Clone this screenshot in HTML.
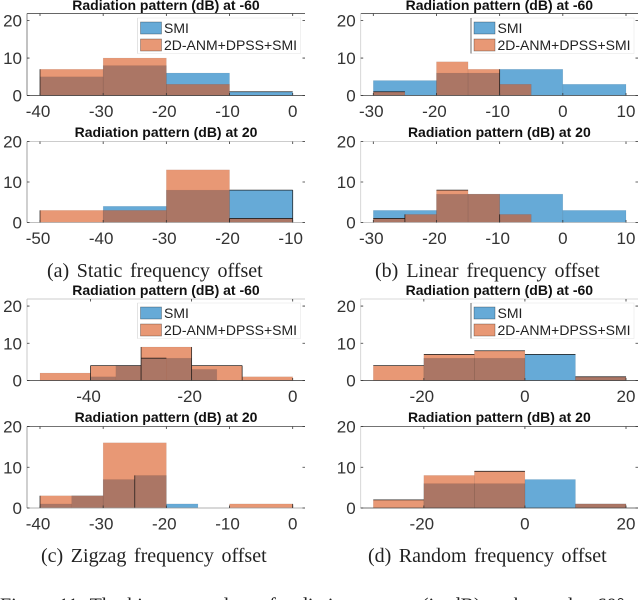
<!DOCTYPE html>
<html>
<head>
<meta charset="utf-8">
<title>Radiation pattern histograms</title>
<style>
html,body{margin:0;padding:0;background:#fff;width:640px;height:600px;overflow:hidden}
svg{display:block}
.tick{font-family:"Liberation Sans",sans-serif;font-size:17px;fill:#333}
.ttl{font-family:"Liberation Sans",sans-serif;font-size:14px;font-weight:bold;fill:#111}
.leg{font-family:"Liberation Sans",sans-serif;font-size:14px;fill:#222}
.cap{font-family:"Liberation Serif",serif;font-size:20px;fill:#222}
</style>
</head>
<body>
<svg id="figure" width="640" height="600" viewBox="0 0 640 600" xmlns="http://www.w3.org/2000/svg">
  <text class="cap" x="47" y="277" word-spacing="2.6">(a) Static frequency offset</text>
  <text class="cap" x="375" y="277" word-spacing="3">(b) Linear frequency offset</text>
  <text class="cap" x="41" y="562" word-spacing="2.6">(c) Zigzag frequency offset</text>
  <text class="cap" x="368" y="562" word-spacing="2.5">(d) Random frequency offset</text>
  <text class="cap" x="0" y="611.5" word-spacing="1.5">Figure 11: The histogram plots of radiation pattern (in dB) at the angles 60°</text>
</svg>
<script>
// ---- data ----
var aTopEdgesSmi = [-40,-30,-20,-10,0];
var aTopSmi = [5,8,6,1];
var aTopEdgesAnm = [-40,-30,-20,-10];
var aTopAnm = [7,10,3];
var aTopTicks = [-40,-30,-20,-10,0];

var aBotEdgesSmi = [-40,-30,-20,-10];
var aBotSmi = [4,8,8];
var aBotEdgesAnm = [-50,-40,-30,-20,-10];
var aBotAnm = [3,3,13,1];
var aBotTicks = [-50,-40,-30,-20,-10];

var bTopEdgesSmi = [-30,-20,-10,0,10];
var bTopSmi = [4,6,7,3];
var bTopEdgesAnm = [-30,-25,-20,-15,-10,-5];
var bTopAnm = [1,0,9,7,3];
var bTopTicks = [-30,-20,-10,0,10];

var bBotEdgesSmi = [-30,-20,-10,0,10];
var bBotSmi = [3,7,7,3];
var bBotEdgesAnm = [-30,-25,-20,-15,-10,-5];
var bBotAnm = [1,2,8,7,2];
var bBotTicks = [-30,-20,-10,0,10];

var cTopEdgesSmi = [-40,-35,-30,-25,-20,-15];
var cTopSmi = [1,4,6,6,3];
var cTopEdgesAnm = [-50,-40,-30,-20,-10,0];
var cTopAnm = [2,4,9,4,1];
var cTopTicks = [-40,-20,0];

var cBotEdgesSmi = [-40,-35,-30,-25,-20,-15];
var cBotSmi = [1,3,7,8,1];
var cBotEdgesAnm = [-40,-30,-20,-10,0];
var cBotAnm = [3,16,0,1];
var cBotTicks = [-40,-30,-20,-10,0];

var dTopEdgesSmi = [-20,-10,0,10,20];
var dTopSmi = [6,6,7,1];
var dTopEdgesAnm = [-30,-20,-10,0,10,20];
var dTopAnm = [4,7,8,0,1];
var dTopTicks = [-20,0,20];

var dBotEdgesSmi = [-20,-10,0,10,20];
var dBotSmi = [6,6,7,1];
var dBotEdgesAnm = [-30,-20,-10,0,10,20];
var dBotAnm = [2,8,9,0,1];
var dBotTicks = [-20,0,20];

var yTicks = [0,10,20];
var seriesNames = ["SMI","2D-ANM+DPSS+SMI"];

// ---- drawing ----
var svg = document.getElementById('figure');
var NS = 'http://www.w3.org/2000/svg';

function add(parent, tag, attrs, text) {
  var el = document.createElementNS(NS, tag);
  for (var k in attrs) el.setAttribute(k, attrs[k]);
  if (text !== undefined) el.textContent = text;
  parent.appendChild(el);
  return el;
}

function drawBars(g, edges, values, sx, sy, fill, id) {
  for (var i = 0; i < values.length; i++) {
    if (!values[i]) continue;
    var x0 = sx(edges[i]), x1 = sx(edges[i + 1]), y = sy(values[i]);
    var r = add(g, 'rect', {x:x0, y:y, width:x1 - x0, height:sy(0) - y, fill:fill, 'fill-opacity':0.6, stroke:'#000', 'stroke-opacity':0.1, 'stroke-width':0.5});
    
    
  }
}

// Darker outline fragments where the reference's bar edges survive downsampling.
// Each spec is "series:index:sides"; t = top, l = left, r = right.
function drawEdges(g, cfg, sx, sy) {
  (cfg.dark || []).forEach(function (spec) {
    var p = spec.split(':');
    var isSmi = p[0] === 's';
    var edges = isSmi ? cfg.edgesSmi : cfg.edgesAnm;
    var vals = isSmi ? cfg.smi : cfg.anm;
    var i = +p[1];
    var x0 = sx(edges[i]), x1 = sx(edges[i + 1]), y = sy(vals[i]), b = sy(0);
    var d = '';
    if (p[2].indexOf('t') >= 0) d += 'M' + x0 + ' ' + y + 'H' + x1;
    if (p[2].indexOf('l') >= 0) d += 'M' + x0 + ' ' + y + 'V' + b;
    if (p[2].indexOf('r') >= 0) d += 'M' + x1 + ' ' + y + 'V' + b;
    var e = add(g, 'path', {d:d, fill:'none', stroke:'#111', 'stroke-opacity':0.85, 'stroke-width':0.8});
    
    
  });
}

function drawPanel(cfg) {
  var g = add(svg, 'g', {});
  
  

  var xMin = cfg.ticks[0], xMax = cfg.ticks[cfg.ticks.length - 1];
  if (cfg.xDomain) { xMin = cfg.xDomain[0]; xMax = cfg.xDomain[1]; }
  var sx = function (v) { return cfg.x0 + (v - xMin) / (xMax - xMin) * (cfg.x1 - cfg.x0); };
  var sy = function (v) { return cfg.bottom - v / cfg.yMax * (cfg.bottom - cfg.top); };

  var title = add(g, 'text', {'class':'ttl', x:(cfg.left + cfg.right) / 2, y:cfg.titleY, 'text-anchor':'middle'}, cfg.title);
  
  

  drawBars(g, cfg.edgesSmi, cfg.smi, sx, sy, '#0072BD', cfg.id + '-smi');
  drawBars(g, cfg.edgesAnm, cfg.anm, sx, sy, '#D95319', cfg.id + '-anm');
  drawEdges(g, cfg, sx, sy);

  var c = cfg.frame;
  var at = add(g, 'path', {d:'M' + cfg.left + ' ' + cfg.top + 'H' + cfg.right, fill:'none', stroke:c[0], 'stroke-width':0.8});
  
  
  var al = add(g, 'path', {d:'M' + cfg.left + ' ' + cfg.top + 'V' + cfg.bottom, fill:'none', stroke:c[1], 'stroke-width':0.8});
  
  
  var ab = add(g, 'path', {d:'M' + cfg.left + ' ' + cfg.bottom + 'H' + cfg.right, fill:'none', stroke:c[2], 'stroke-width':0.8});
  
  

  cfg.ticks.forEach(function (t) {
    var x = sx(t);
    var tm = add(g, 'path', {d:'M' + x + ' ' + cfg.bottom + 'v-2.5M' + x + ' ' + cfg.top + 'v2.5', stroke:'#333', 'stroke-width':0.8});
    
    
    var lab = add(g, 'text', {'class':'tick', x:x - (t < 0 ? 2 : 0), y:cfg.bottom + 21.5, 'text-anchor':'middle'}, String(t));
    
    
  });

  yTicks.forEach(function (t) {
    var y = sy(t);
    var tm = add(g, 'path', {d:'M' + cfg.left + ' ' + y + 'h2.5M' + cfg.right + ' ' + y + 'h-2.5', stroke:'#333', 'stroke-width':0.8});
    
    
    var lab = add(g, 'text', {'class':'tick', x:cfg.left - 5, y:y + 6, 'text-anchor':'end'}, String(t));
    
    
  });

  if (cfg.legend) {
    var l = cfg.legend;
    var lg = add(g, 'g', {});
    
    
    add(lg, 'rect', {x:l.x, y:l.y, width:163, height:35.5, fill:'#fff', 'fill-opacity':0.9, stroke:'#e8e8e8', 'stroke-width':0.6});
    add(lg, 'path', {d:'M' + l.x + ' ' + l.y + 'v35.5', stroke:l.edge, 'stroke-width':0.7});
    var colors = ['#0072BD', '#D95319'];
    seriesNames.forEach(function (n, i) {
      var yy = l.y + 4 + i * 17;
      var sw = add(lg, 'rect', {x:l.x + 3, y:yy, width:21, height:12, fill:colors[i], 'fill-opacity':0.6, stroke:'#000', 'stroke-opacity':0.45, 'stroke-width':0.6});
      
      
      var tx = add(lg, 'text', {'class':'leg', x:l.x + 26.5, y:yy + 11}, n);
      
      
    });
  }
}

var T60 = 'Radiation pattern (dB) at -60';
var T20 = 'Radiation pattern (dB) at 20';
var L = {left:27, right:305, x0:40, x1:292.7};
var R = {left:360.7, right:638, x0:373.3, x1:626};

function panel(side, extra) {
  var c = {left:side.left, right:side.right, x0:side.x0, x1:side.x1};
  for (var k in extra) c[k] = extra[k];
  drawPanel(c);
}

panel(L, {id:'a-top', title:T60, titleY:10, top:13.5, bottom:95.5, yMax:21.9, frame:['#333','#666','#333'], ticks:aTopTicks, edgesSmi:aTopEdgesSmi, smi:aTopSmi, edgesAnm:aTopEdgesAnm, anm:aTopAnm, dark:['a:0:l','s:3:t'], legend:{x:137.5, y:18, edge:'#ddd'}});
panel(L, {id:'a-bot', title:T20, titleY:137, top:141.5, bottom:222.5, yMax:20, frame:['#bbb','#888','#aaa'], ticks:aBotTicks, edgesSmi:aBotEdgesSmi, smi:aBotSmi, edgesAnm:aBotEdgesAnm, anm:aBotAnm, dark:['s:2:tr','a:3:t','a:0:l','a:3:l']});
panel(R, {id:'b-top', title:T60, titleY:10, top:13.5, bottom:95.5, yMax:21.9, frame:['#333','#ccc','#444'], ticks:bTopTicks, edgesSmi:bTopEdgesSmi, smi:bTopSmi, edgesAnm:bTopEdgesAnm, anm:bTopAnm, dark:['a:0:t','s:2:l'], legend:{x:471, y:18, edge:'#333'}});
panel(R, {id:'b-bot', title:T20, titleY:137, top:141.5, bottom:222.5, yMax:20, frame:['#ccc','#ccc','#bbb'], ticks:bBotTicks, edgesSmi:bBotEdgesSmi, smi:bBotSmi, edgesAnm:bBotEdgesAnm, anm:bBotAnm, dark:['a:0:t','a:2:t','a:1:l','a:4:l']});
panel(L, {id:'c-top', title:T60, titleY:295, top:299, bottom:380.5, yMax:21.9, xDomain:[-50,0], frame:['#bbb','#bbb','#333'], ticks:cTopTicks, edgesSmi:cTopEdgesSmi, smi:cTopSmi, edgesAnm:cTopEdgesAnm, anm:cTopAnm, dark:['a:1:tl','a:2:l','a:2:r','a:3:t','a:3:r','s:2:t'], legend:{x:137.5, y:303, edge:'#ddd'}});
panel(L, {id:'c-bot', title:T20, titleY:422, top:426.5, bottom:508, yMax:20, frame:['#444','#888','#999'], ticks:cBotTicks, edgesSmi:cBotEdgesSmi, smi:cBotSmi, edgesAnm:cBotEdgesAnm, anm:cBotAnm, dark:['a:0:l','s:3:l','a:3:r']});
panel(R, {id:'d-top', title:T60, titleY:295, top:299, bottom:380.5, yMax:21.9, xDomain:[-30,20], frame:['#ccc','#ccc','#333'], ticks:dTopTicks, edgesSmi:dTopEdgesSmi, smi:dTopSmi, edgesAnm:dTopEdgesAnm, anm:dTopAnm, dark:['a:0:t','a:1:t','a:2:t','s:2:t','a:4:t'], legend:{x:471, y:303, edge:'#333'}});
panel(R, {id:'d-bot', title:T20, titleY:422, top:426.5, bottom:508, yMax:20, xDomain:[-30,20], frame:['#444','#ccc','#444'], ticks:dBotTicks, edgesSmi:dBotEdgesSmi, smi:dBotSmi, edgesAnm:dBotEdgesAnm, anm:dBotAnm, dark:['a:0:t','a:2:t']});
</script>
</body>
</html>
